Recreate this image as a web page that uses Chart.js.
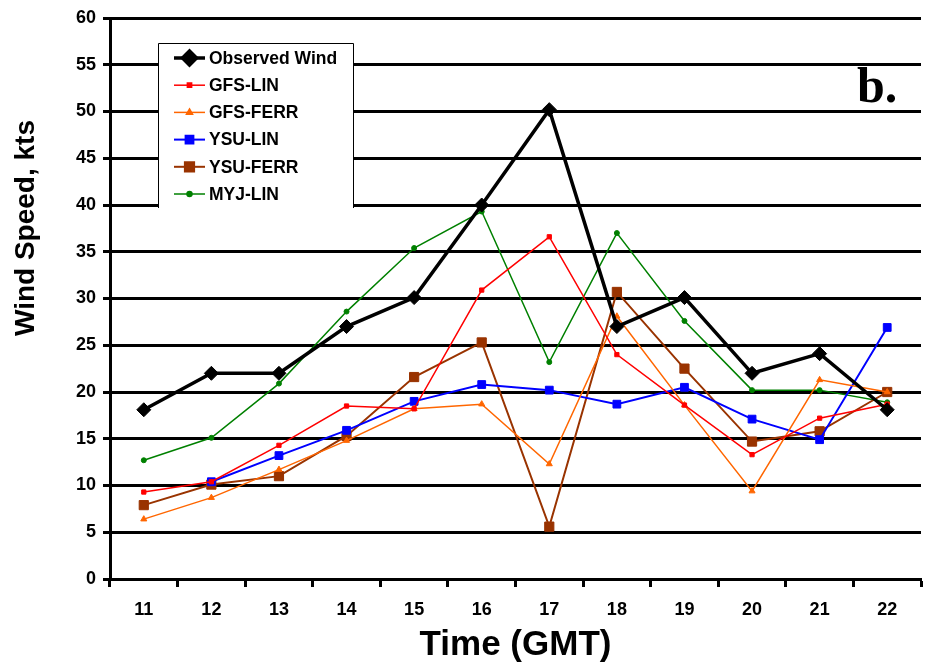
<!DOCTYPE html>
<html>
<head>
<meta charset="utf-8">
<script src="https://cdn.jsdelivr.net/npm/chart.js@4/dist/chart.umd.min.js"></script>
<style>
  html, body { margin: 0; padding: 0; background: #fff; }
  #wrap { width: 934px; height: 669px; position: relative; }
</style>
</head>
<body>
<div id="wrap"><canvas id="windChart"></canvas></div>
<script>
const hours = ["11", "12", "13", "14", "15", "16", "17", "18", "19", "20", "21", "22"];

const observedWind = [18.1, 22.0, 22.0, 27.0, 30.1, 40.0, 50.2, 27.0, 30.1, 22.0, 24.1, 18.1];
const gfsLin = [9.3, 10.4, 14.3, 18.5, 18.2, 30.9, 36.6, 24.0, 18.6, 13.3, 17.2, 18.7];
const gfsFerr = [6.4, 8.7, 11.7, 14.8, 18.2, 18.7, 12.3, 28.1, 18.6, 9.4, 21.3, 20.0];
const ysuLin = [null, 10.4, 13.2, 15.9, 19.0, 20.8, 20.2, 18.7, 20.5, 17.1, 14.9, 26.9];
const ysuFerr = [7.9, 10.1, 11.0, 15.3, 21.6, 25.3, 5.6, 30.7, 22.5, 14.7, 15.8, 20.0];
const myjLin = [12.7, 15.1, 20.9, 28.6, 35.4, 39.3, 23.2, 37.0, 27.6, 20.2, 20.2, 18.9];

const yTicks = [0, 5, 10, 15, 20, 25, 30, 35, 40, 45, 50, 55, 60];

const FONT = "'Liberation Sans', Arial, sans-serif";

const series = (label, data, color, width, style, radius) => ({
  label: label,
  data: data,
  borderColor: color,
  backgroundColor: color,
  borderWidth: width,
  pointStyle: style,
  pointRadius: radius,
  pointHoverRadius: radius,
  pointBackgroundColor: color,
  pointBorderColor: color,
  pointBorderWidth: 1,
  tension: 0,
});

// legend box drawn inside the plot, plus the rotated y title and panel label
const extrasPlugin = {
  id: "extras",
  afterDraw: chart => {
    const ctx = chart.ctx;
    ctx.save();

    // legend
    const boxL = 158, boxR = 354, boxT = 43, boxB = 208;
    ctx.fillStyle = "#fff";
    ctx.fillRect(boxL, boxT, boxR - boxL, boxB - boxT);
    ctx.strokeStyle = "#000";
    ctx.lineWidth = 1;
    ctx.beginPath();
    ctx.moveTo(boxL + 0.5, boxB);
    ctx.lineTo(boxL + 0.5, boxT + 0.5);
    ctx.lineTo(boxR - 0.5, boxT + 0.5);
    ctx.lineTo(boxR - 0.5, boxB);
    ctx.stroke();

    chart.data.datasets.forEach((ds, i) => {
      const y = 58 + i * 27.2;
      ctx.strokeStyle = ds.borderColor;
      ctx.lineWidth = ds.borderWidth;
      ctx.beginPath();
      ctx.moveTo(174, y);
      ctx.lineTo(205, y);
      ctx.stroke();
      ctx.fillStyle = ds.borderColor;
      Chart.helpers.drawPoint(ctx, {
        pointStyle: ds.pointStyle,
        radius: ds.pointRadius,
        rotation: 0,
        borderWidth: 1,
      }, 189.5, y);
      ctx.fillStyle = "#000";
      ctx.font = "bold 17.5px " + FONT;
      ctx.textAlign = "left";
      ctx.textBaseline = "middle";
      ctx.fillText(ds.label, 209, y + 1);
    });

    // y axis title
    ctx.translate(26, 228);
    ctx.rotate(-Math.PI / 2);
    ctx.fillStyle = "#000";
    ctx.font = "bold 28px " + FONT;
    ctx.textAlign = "center";
    ctx.textBaseline = "middle";
    ctx.fillText("Wind Speed, kts", 0, 0);
    ctx.setTransform(1, 0, 0, 1, 0, 0);

    // panel label
    ctx.font = "bold 50px 'Liberation Serif', 'Times New Roman', serif";
    ctx.textAlign = "left";
    ctx.textBaseline = "alphabetic";
    ctx.fillText("b.", 857, 102);

    ctx.restore();
  },
};

const chart = new Chart(document.getElementById("windChart"), {
  type: "line",
  data: {
    labels: hours,
    datasets: [
      series("Observed Wind", observedWind, "#000000", 3.5, "rectRot", 7),
      series("GFS-LIN", gfsLin, "#ff0000", 1.5, "rect", 3),
      series("GFS-FERR", gfsFerr, "#ff6600", 1.5, "triangle", 3.5),
      series("YSU-LIN", ysuLin, "#0000ff", 2, "rect", 5.5),
      series("YSU-FERR", ysuFerr, "#993300", 2, "rect", 6.5),
      series("MYJ-LIN", myjLin, "#008000", 1.5, "circle", 2.5),
    ],
  },
  options: {
    responsive: true,
    maintainAspectRatio: false,
    animation: false,
    events: [],
    layout: { padding: { top: 18, right: 13, left: 0, bottom: 0 } },
    plugins: {
      legend: { display: false },
      title: { display: false },
      tooltip: { enabled: false },
    },
    scales: {
      x: {
        type: "category",
        offset: true,
        afterFit: scale => { scale.height = 90; },
        grid: {
          offset: true,
          drawOnChartArea: false,
          drawTicks: true,
          tickLength: 8,
          tickWidth: 3,
          tickColor: "#000",
        },
        border: { display: true, color: "#000", width: 3 },
        ticks: {
          color: "#000",
          padding: 12,
          font: { family: FONT, size: 18, weight: "bold" },
          maxRotation: 0,
        },
        title: {
          display: true,
          text: "Time (GMT)",
          color: "#000",
          font: { family: FONT, size: 35, weight: "bold" },
          padding: { top: 0, bottom: 3 },
        },
      },
      y: {
        min: 0,
        max: 60,
        afterFit: scale => { scale.width = 110; },
        afterBuildTicks: scale => {
          scale.ticks = yTicks.map(v => ({ value: v }));
        },
        grid: {
          color: "#000",
          lineWidth: 3,
          drawTicks: true,
          tickLength: 7,
          tickWidth: 3,
          tickColor: "#000",
        },
        border: { display: true, color: "#000", width: 3 },
        ticks: {
          color: "#000",
          padding: 7,
          font: { family: FONT, size: 18, weight: "bold" },
        },
      },
    },
  },
  plugins: [extrasPlugin],
});
</script>
</body>
</html>
